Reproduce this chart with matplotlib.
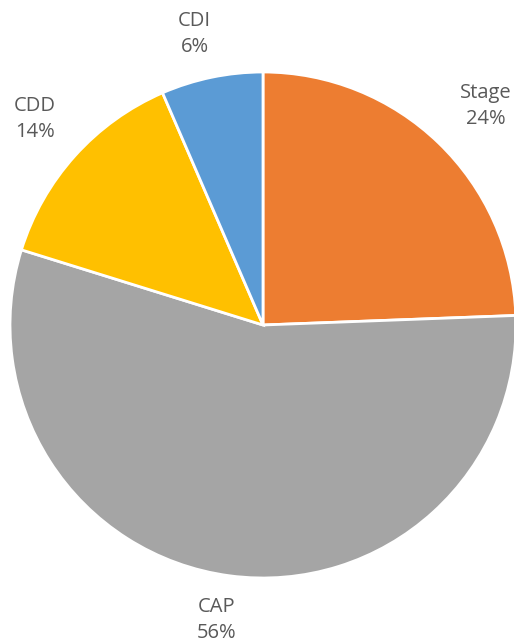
import matplotlib
matplotlib.use("Agg")
import matplotlib.pyplot as plt
from matplotlib.transforms import offset_copy

labels = ["Stage", "CAP", "CDD", "CDI"]
# slice sizes as measured from the wedge angles; label text as printed
sizes = [24.4, 55.4, 13.7, 6.5]
pct_labels = ["24%", "56%", "14%", "6%"]
colors = ["#ED7D31", "#A5A5A5", "#FFC000", "#5B9BD5"]
# small nudges (in points) to mimic Excel's best-fit label placement
label_nudges = [(9, 0.5), (-5, 4), (-1.5, 2), (-5, -4.5)]

plt.rcParams["font.family"] = ["Open Sans", "DejaVu Sans"]

fig = plt.figure(figsize=(5.14, 6.42), dpi=100)
ax = fig.add_axes([10 / 514, 64 / 642, 506 / 514, 506 / 642])

texts = [f"{name}\n{p}" for name, p in zip(labels, pct_labels)]
wedges, label_texts = ax.pie(
    sizes,
    labels=texts,
    colors=colors,
    startangle=90,
    counterclock=False,
    labeldistance=1.2,
    wedgeprops={"edgecolor": "white", "linewidth": 2},
    textprops={"color": "#595959", "fontsize": 14.5, "linespacing": 1.4},
)
for t, (dx, dy) in zip(label_texts, label_nudges):
    t.set_horizontalalignment("center")
    t.set_verticalalignment("center")
    t.set_transform(offset_copy(ax.transData, fig=fig, x=dx, y=dy, units="points"))

ax.set_xlim(-1, 1)
ax.set_ylim(-1, 1)
ax.set_aspect("equal")

fig.savefig("out.png", dpi=100)
